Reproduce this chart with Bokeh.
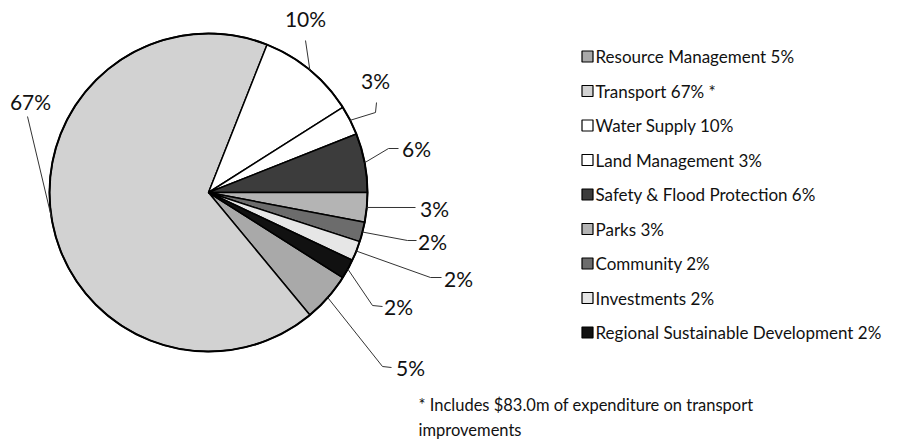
import math
from bokeh.plotting import figure
from bokeh.models import Range1d
from bokeh.core.properties import value
from bokeh.embed import file_html
from bokeh.resources import INLINE

# ---- data ----
categories = ["Resource Management", "Transport", "Water Supply", "Land Management",
              "Safety & Flood Protection", "Parks", "Community", "Investments",
              "Regional Sustainable Development"]
shares = [5, 67, 10, 3, 6, 3, 2, 2, 2]
pct_labels = ["5%", "67%", "10%", "3%", "6%", "3%", "2%", "2%", "2%"]
legend_labels = ["Resource Management 5%", "Transport 67% *", "Water Supply 10%",
                 "Land Management 3%", "Safety & Flood Protection 6%", "Parks 3%",
                 "Community 2%", "Investments 2%", "Regional Sustainable Development 2%"]
footnote = ["* Includes $83.0m of expenditure on transport", "improvements"]

# ---- styles ----
fills = ["#a9a9a9", "#d2d2d2", "#ffffff", "#ffffff", "#3c3c3c",
         "#b4b4b4", "#6c6c6c", "#e6e6e6", "#111111"]
FONT = "Lato"
W, H = 900, 441
CX, CY, R = 208, 192, 159  # screen px

def sy(y):
    return H - y

# label layout (screen px): elbow points (or None), end point, label centre
leader_layout = [
    ((382, 366), (391, 367), (410, 367)),
    (None, (27, 116), (30, 101)),
    (None, (305, 40), (305, 18)),
    ((375, 112), (376, 102), (375, 80)),
    ((388, 148), (398, 148), (416, 148)),
    (None, (415, 207), (434, 208)),
    ((407, 240), (416, 240), (432, 241)),
    ((430, 277), (441, 277), (458, 278)),
    ((372, 305), (382, 306), (398, 306)),
]

p = figure(width=W, height=H, output_backend="svg", toolbar_location=None,
           x_range=Range1d(0, W), y_range=Range1d(0, H), min_border=0)
p.axis.visible = False
p.grid.visible = False
p.outline_line_color = None
p.background_fill_color = "white"

total = float(sum(shares))
# slices go clockwise; the fifth slice (Safety) ends at 3 o'clock
start0 = 2 * math.pi * sum(shares[:5]) / total
starts, ends, mids = [], [], []
cum = 0.0
for s in shares:
    a_hi = start0 - 2 * math.pi * cum / total
    a_lo = a_hi - 2 * math.pi * s / total
    starts.append(a_lo)
    ends.append(a_hi)
    mids.append((a_hi + a_lo) / 2)
    cum += s

p.wedge(x=[CX] * len(shares), y=[sy(CY)] * len(shares), radius=R,
        start_angle=starts, end_angle=ends, direction="anticlock",
        fill_color=fills, line_color="black", line_width=1.5)
p.circle(x=[CX], y=[sy(CY)], radius=R, fill_color=None, line_color="black", line_width=2)

# leader lines + labels
xs, ys = [], []
lx, ly = [], []
for m, (elbow, end, lab) in zip(mids, leader_layout):
    ax = CX + R * math.cos(m)
    ay = sy(CY) + R * math.sin(m)
    px = [ax]
    py = [ay]
    if elbow is not None:
        px.append(elbow[0]); py.append(sy(elbow[1]))
    px.append(end[0]); py.append(sy(end[1]))
    xs.append(px); ys.append(py)
    lx.append(lab[0]); ly.append(sy(lab[1]))

p.multi_line(xs=xs, ys=ys, line_color="#333333", line_width=1)
p.text(x=lx, y=ly, text=pct_labels, text_font=value(FONT), text_font_size="21px",
       text_align="center", text_baseline="middle", text_color="#111111")

# legend
leg_x, leg_y0, leg_dy = 587, 56, 34.5
leg_ys = [sy(leg_y0 + i * leg_dy) for i in range(len(legend_labels))]
p.rect(x=[leg_x] * len(legend_labels), y=leg_ys, width=11, height=11,
       width_units="screen", height_units="screen",
       fill_color=fills, line_color="black", line_width=1.2)
p.text(x=[leg_x + 8] * len(legend_labels), y=leg_ys, text=legend_labels,
       text_font=value(FONT), text_font_size="17px", text_align="left",
       text_baseline="middle", text_color="#111111")

# footnote
p.text(x=[418, 418], y=[sy(404), sy(429)], text=footnote,
       text_font=value(FONT), text_font_size="16.5px", text_align="left",
       text_baseline="middle", text_color="#111111")

open("out.html", "w").write(file_html(p, INLINE))
